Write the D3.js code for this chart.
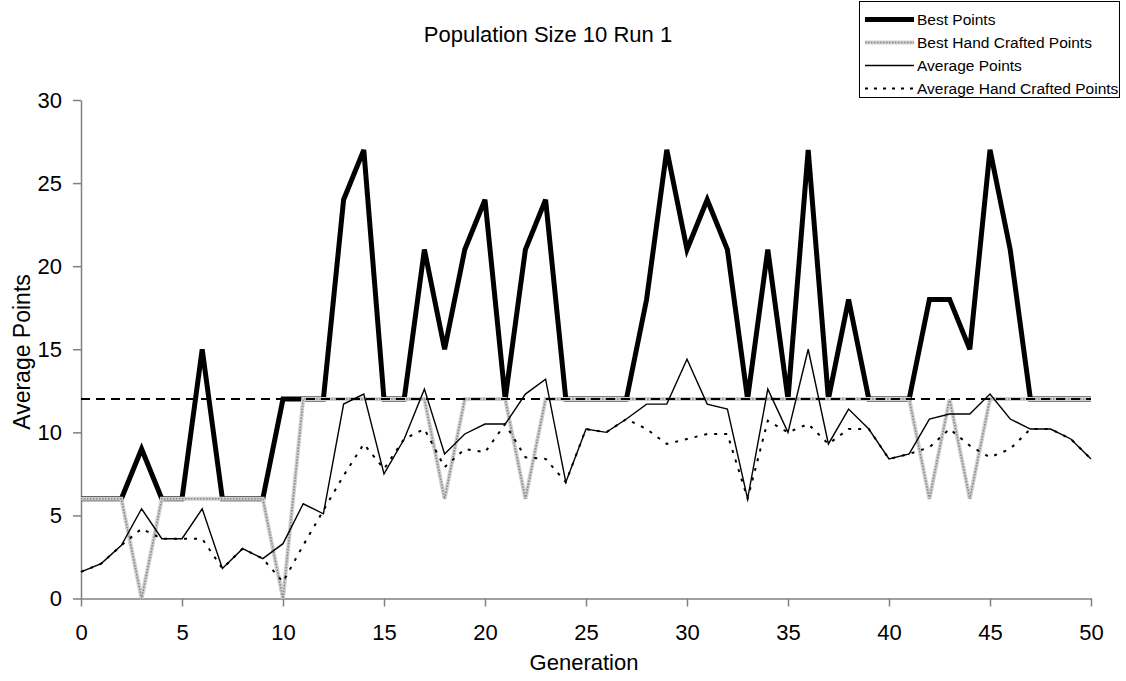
<!DOCTYPE html>
<html>
<head>
<meta charset="utf-8">
<script src="https://cdn.jsdelivr.net/npm/d3@7"></script>
<style>
  body { margin: 0; background: #fff; }
  svg { display: block; font-family: "Liberation Sans", Arial, sans-serif; }
</style>
</head>
<body>
<svg width="1126" height="681"></svg>
<script>
// generations 0..50
var generations = d3.range(0, 51);

var bestPoints = [6,6,6,9,6,6,15,6,6,6, 12,12,12,24,27,12,12,21,15,21, 24,12,21,24,12,12,12,12,18,27,
    21,24,21,12,21,12,27,12,18,12, 12,12,18,18,15,27,21,12,12,12, 12];
var bestHandPoints = [6,6,6,0,6,6,6,6,6,6, 0,12,12,12,12,12,12,12,6,12, 12,12,6,12,12,12,12,12,12,12,
    12,12,12,12,12,12,12,12,12,12, 12,12,6,12,6,12,12,12,12,12, 12];
var avgPoints = [1.6,2.1,3.2,5.4,3.6,3.6,5.4,1.8,3.0,2.4, 3.3,5.7,5.1,11.7,12.3,7.5,9.6,12.6,8.7,9.9,
    10.5,10.5,12.3,13.2,7.0,10.2,10.0,10.8,11.7,11.7, 14.4,11.7,11.4,6.0,12.6,10.0,15.0,9.3,11.4,10.2,
    8.4,8.7,10.8,11.1,11.1,12.3,10.8,10.2,10.2,9.6, 8.4];
var avgHandPoints = [1.6,2.1,3.2,4.2,3.6,3.6,3.6,1.8,3.0,2.4, 1.0,3.2,5.3,7.4,9.3,7.8,9.6,10.2,7.9,9.0,
    8.8,10.5,8.5,8.4,7.0,10.2,10.0,10.8,10.2,9.3, 9.6,9.9,9.9,6.0,10.7,10.0,10.5,9.3,10.2,10.2,
    8.4,8.7,9.1,10.2,9.2,8.5,9.0,10.2,10.2,9.6, 8.4];
var referenceLevel = 12;

var xTicks = [0,5,10,15,20,25,30,35,40,45,50];
var yTicks = [0,5,10,15,20,25,30];

var svg = d3.select("svg");

var x = d3.scaleLinear().domain([0, 50]).range([81, 1091]);
var y = d3.scaleLinear().domain([0, 30]).range([598.5, 100]);

function series(vals) {
  return generations.map(function(g, i) { return {g: g, v: vals[i]}; });
}

var line = d3.line()
    .x(function(d) { return x(d.g); })
    .y(function(d) { return y(d.v); });

// axes
var axisColor = "#808080";
var gx = svg.append("g")
    .attr("transform", "translate(0," + y(0) + ")")
    .call(d3.axisBottom(x).tickValues(xTicks).tickSize(8).tickPadding(18).tickSizeOuter(0));
var gy = svg.append("g")
    .attr("transform", "translate(" + x(0) + ",0)")
    .call(d3.axisLeft(y).tickValues(yTicks).tickSize(8).tickPadding(11).tickSizeOuter(0));
[gx, gy].forEach(function(g) {
  g.select(".domain").attr("stroke", axisColor).attr("stroke-width", 1.5);
  g.selectAll(".tick line").attr("stroke", axisColor).attr("stroke-width", 1.5);
  g.selectAll(".tick text").attr("fill", "#000").style("font-size", "22px")
    .style("font-family", "'Liberation Sans', Arial, sans-serif");
});

// series
var plot = svg.append("g").attr("fill", "none");

plot.append("path").datum(series(bestPoints))
    .attr("d", line).attr("stroke", "#000").attr("stroke-width", 5)
    .attr("stroke-linejoin", "miter");

plot.append("path").datum(series(bestHandPoints))
    .attr("d", line).attr("stroke", "#cfcfcf").attr("stroke-width", 4);
plot.append("path").datum(series(bestHandPoints))
    .attr("d", line).attr("stroke", "#858585").attr("stroke-width", 1.5)
    .attr("stroke-dasharray", "1.5,1.5");

plot.append("path").datum(series(avgPoints))
    .attr("d", line).attr("stroke", "#000").attr("stroke-width", 1.4);

plot.append("path").datum(series(avgHandPoints))
    .attr("d", line).attr("stroke", "#000").attr("stroke-width", 2)
    .attr("stroke-dasharray", "3,7");

plot.append("line")
    .attr("x1", x(0)).attr("x2", x(50))
    .attr("y1", y(referenceLevel)).attr("y2", y(referenceLevel))
    .attr("stroke", "#000").attr("stroke-width", 2)
    .attr("stroke-dasharray", "9,6");

// titles
svg.append("text")
    .attr("x", 548).attr("y", 42)
    .attr("text-anchor", "middle")
    .style("font-size", "22px")
    .text("Population Size 10 Run 1");

svg.append("text")
    .attr("x", 584).attr("y", 670)
    .attr("text-anchor", "middle")
    .style("font-size", "22px")
    .text("Generation");

svg.append("text")
    .attr("transform", "translate(30," + 352 + ") rotate(-90)")
    .attr("text-anchor", "middle")
    .style("font-size", "23px")
    .text("Average Points");

// legend
var legendItems = [
  {name: "Best Points", type: "best"},
  {name: "Best Hand Crafted Points", type: "bestHand"},
  {name: "Average Points", type: "avg"},
  {name: "Average Hand Crafted Points", type: "avgHand"}
];

var legend = svg.append("g");
legend.append("rect")
    .attr("x", 859.5).attr("y", 1.5).attr("width", 260).attr("height", 96)
    .attr("fill", "#fff").attr("stroke", "#000").attr("stroke-width", 1);

legendItems.forEach(function(item, i) {
  var cy = 19.5 + i * 23;
  var g = legend.append("g");
  if (item.type == "best") {
    g.append("line").attr("x1", 865).attr("x2", 914).attr("y1", cy).attr("y2", cy)
      .attr("stroke", "#000").attr("stroke-width", 5);
  } else if (item.type == "bestHand") {
    g.append("line").attr("x1", 865).attr("x2", 914).attr("y1", cy).attr("y2", cy)
      .attr("stroke", "#cfcfcf").attr("stroke-width", 4);
    g.append("line").attr("x1", 865).attr("x2", 914).attr("y1", cy).attr("y2", cy)
      .attr("stroke", "#858585").attr("stroke-width", 1.5).attr("stroke-dasharray", "1.5,1.5");
  } else if (item.type == "avg") {
    g.append("line").attr("x1", 865).attr("x2", 914).attr("y1", cy).attr("y2", cy)
      .attr("stroke", "#000").attr("stroke-width", 1.4);
  } else {
    g.append("line").attr("x1", 865).attr("x2", 914).attr("y1", cy).attr("y2", cy)
      .attr("stroke", "#000").attr("stroke-width", 2).attr("stroke-dasharray", "3,6");
  }
  g.append("text")
    .attr("x", 917).attr("y", cy + 5.5)
    .style("font-size", "15.5px")
    .text(item.name);
});
</script>
</body>
</html>
